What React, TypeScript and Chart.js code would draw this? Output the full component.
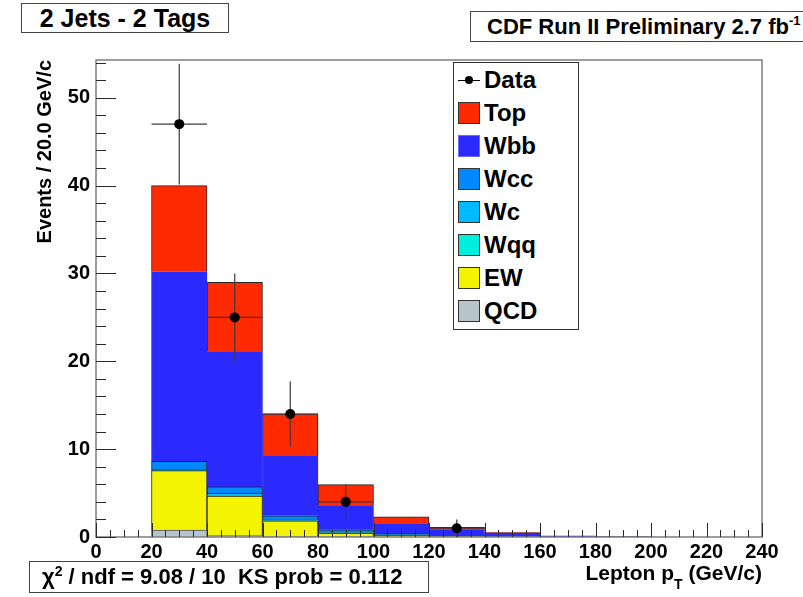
import React, { useEffect, useRef } from "react";
import { Chart, registerables } from "chart.js";

Chart.register(...registerables);

// ---- data ----
const binCenters = [30, 50, 70, 90, 110, 130, 150, 170, 190];
const binWidth = 20;
const qcd = [0.8, 0.15, 0.05, 0.05, 0, 0, 0, 0, 0];
const ew = [6.75, 4.5, 1.8, 0.4, 0.2, 0.05, 0, 0, 0];
const wqq = [0.05, 0.05, 0.02, 0.02, 0, 0, 0, 0, 0];
const wc = [0.1, 0.3, 0.1, 0.1, 0.05, 0, 0, 0, 0];
const wcc = [0.9, 0.7, 0.45, 0.25, 0.1, 0.05, 0.02, 0, 0];
const wbb = [21.6, 15.4, 6.75, 2.75, 1.1, 0.7, 0.43, 0.12, 0.02];
const topQuark = [9.8, 7.9, 4.85, 2.4, 0.85, 0.3, 0.05, 0, 0.02];
const dataCounts = [47, 25, 14, 4, 0, 1, 0, 0, 0];
const dataErrors = [6.86, 5, 3.74, 2, 0, 1, 0, 0, 0];
const xTickValues = [0, 20, 40, 60, 80, 100, 120, 140, 160, 180, 200, 220, 240];
const yTickValues = [0, 10, 20, 30, 40, 50];
const xMax = 240;
const yMax = 54.3;

// ---- styles ----
const FONT = "'Liberation Sans', Arial, Helvetica, sans-serif";
const colors = {
  Top: "#ff2a00",
  Wbb: "#2a2aff",
  Wcc: "#0088ff",
  Wc: "#00bbff",
  Wqq: "#00eedd",
  EW: "#f4f400",
  QCD: "#b8c4cc",
};
const edge = "#262626";

const stackSeries = [
  { label: "QCD", values: qcd, border: "#555" },
  { label: "EW", values: ew, border: edge },
  { label: "Wqq", values: wqq, border: edge },
  { label: "Wc", values: wc, border: edge },
  { label: "Wcc", values: wcc, border: edge },
  { label: "Wbb", values: wbb, border: colors.Wbb },
  { label: "Top", values: topQuark, border: edge },
];
const legendOrder = ["Top", "Wbb", "Wcc", "Wc", "Wqq", "EW", "QCD"];

const rootPlugin = {
  id: "rootStyle",
  beforeDatasetDraw(chart: any, args: any) {
    const ds = chart.data.datasets[args.index];
    if (ds.type !== "scatter") return;
    const { ctx, chartArea: a, scales } = chart;
    const x = scales.x;
    const y = scales.y;
    ctx.save();
    // frame
    ctx.strokeStyle = "#7d7d7d";
    ctx.lineWidth = 1.5;
    ctx.strokeRect(a.left, a.top, a.right - a.left, a.bottom - a.top);
    // ticks
    ctx.strokeStyle = "#2a2a2a";
    ctx.lineWidth = 1;
    ctx.beginPath();
    for (let v = 0; v <= xMax; v += 5) {
      const px = Math.round(x.getPixelForValue(v)) + 0.5;
      const len = v % 20 === 0 ? 14 : 7;
      ctx.moveTo(px, a.bottom);
      ctx.lineTo(px, a.bottom - len);
    }
    for (let v = 0; v <= yMax; v += 2) {
      const py = Math.round(y.getPixelForValue(v)) + 0.5;
      const len = v % 10 === 0 ? 20 : 10;
      ctx.moveTo(a.left, py);
      ctx.lineTo(a.left + len, py);
    }
    ctx.stroke();
    // error bars
    ctx.strokeStyle = "#3a3a3a";
    ctx.lineWidth = 1.2;
    ctx.beginPath();
    binCenters.forEach((c, i) => {
      if (dataCounts[i] <= 0) return;
      const px = x.getPixelForValue(c);
      const py = y.getPixelForValue(dataCounts[i]);
      ctx.moveTo(x.getPixelForValue(c - binWidth / 2), py);
      ctx.lineTo(x.getPixelForValue(c + binWidth / 2), py);
      ctx.moveTo(px, y.getPixelForValue(dataCounts[i] + dataErrors[i]));
      ctx.lineTo(px, y.getPixelForValue(Math.max(0, dataCounts[i] - dataErrors[i])));
    });
    ctx.stroke();
    ctx.restore();
  },
};

export default function App() {
  const ref = useRef<HTMLCanvasElement>(null);

  useEffect(() => {
    const datasets: any[] = stackSeries.map((s) => ({
      type: "bar",
      label: s.label,
      data: binCenters.map((c, i) => ({ x: c, y: s.values[i] > 0 ? s.values[i] : null })),
      backgroundColor: (colors as any)[s.label],
      borderColor: s.border,
      borderWidth: 1,
      borderSkipped: "start",
      categoryPercentage: 1,
      barPercentage: 1,
      stack: "mc",
    }));
    datasets.push({
      type: "scatter",
      label: "Data",
      data: binCenters
        .map((c, i) => ({ x: c, y: dataCounts[i] }))
        .filter((p) => p.y > 0),
      backgroundColor: "#000",
      borderColor: "#000",
      pointRadius: 5,
      pointBorderWidth: 0,
      stack: "data",
      order: -1,
    });

    const tickFont = { family: FONT, size: 20, weight: "bold" as const };
    const chart = new Chart(ref.current!, {
      type: "bar",
      data: { datasets },
      options: {
        animation: false,
        responsive: false,
        devicePixelRatio: 1,
        layout: { padding: { left: 0, top: 60, right: 41, bottom: 0 } },
        plugins: { legend: { display: false }, tooltip: { enabled: false }, title: { display: false } },
        scales: {
          x: {
            type: "linear",
            min: 0,
            max: xMax,
            offset: false,
            stacked: true,
            grid: { display: false, drawTicks: false },
            border: { display: false },
            afterBuildTicks: (scale: any) => {
              scale.ticks = xTickValues.map((v) => ({ value: v }));
            },
            afterFit: (scale: any) => {
              scale.height = 60;
            },
            ticks: { font: tickFont, color: "#000", padding: 3, maxRotation: 0, autoSkip: false },
          },
          y: {
            type: "linear",
            min: 0,
            max: yMax,
            stacked: true,
            grid: { display: false, drawTicks: false },
            border: { display: false },
            afterBuildTicks: (scale: any) => {
              scale.ticks = yTickValues.map((v) => ({ value: v }));
            },
            afterFit: (scale: any) => {
              scale.width = 96;
            },
            ticks: { font: tickFont, color: "#000", padding: 6 },
          },
        },
      } as any,
      plugins: [rootPlugin],
    });
    return () => chart.destroy();
  }, []);

  const box: React.CSSProperties = {
    position: "absolute",
    border: "1px solid #444",
    background: "#fff",
    boxSizing: "border-box",
    whiteSpace: "pre",
  };

  return (
    <div
      style={{
        position: "absolute",
        left: 0,
        top: 0,
        width: 803,
        height: 597,
        overflow: "hidden",
        background: "#fff",
        fontFamily: FONT,
        fontWeight: "bold",
        color: "#000",
      }}
    >
      <canvas ref={ref} width={803} height={597} style={{ position: "absolute", left: 0, top: 0 }} />

      <div style={{ ...box, left: 21, top: 3, width: 208, height: 30, fontSize: 25, lineHeight: "28px", textAlign: "center" }}>
        2 Jets - 2 Tags
      </div>

      <div style={{ ...box, left: 470, top: 11, width: 345, height: 31, fontSize: 22, lineHeight: "29px", paddingLeft: 16 }}>
        CDF Run II Preliminary 2.7 fb
        <span style={{ fontSize: 13, position: "relative", top: -9 }}>-1</span>
      </div>

      <div
        style={{
          position: "absolute",
          left: 32,
          top: 360,
          width: 300,
          height: 24,
          lineHeight: "24px",
          fontSize: 20,
          textAlign: "right",
          transformOrigin: "0 0",
          transform: "rotate(-90deg)",
          whiteSpace: "pre",
        }}
      >
        Events / 20.0 GeV/c
      </div>

      <div
        style={{
          position: "absolute",
          right: 41,
          top: 562,
          fontSize: 21,
          lineHeight: "21px",
          whiteSpace: "pre",
        }}
      >
        Lepton p<span style={{ fontSize: 14, position: "relative", top: 9 }}>T</span> (GeV/c)
      </div>

      <div style={{ ...box, left: 29, top: 561, width: 400, height: 32, fontSize: 22, lineHeight: "30px", paddingLeft: 12 }}>
        χ<span style={{ fontSize: 14, position: "relative", top: -8 }}>2</span>
        {" / ndf = 9.08 / 10  KS prob = 0.112"}
      </div>

      <div style={{ ...box, left: 453, top: 62, width: 126, height: 268, border: "1px solid #333", paddingTop: 0 }}>
        <div style={{ position: "relative", height: 33, display: "flex", alignItems: "center" }}>
          <div style={{ position: "relative", width: 22, height: 22, marginLeft: 4 }}>
            <div style={{ position: "absolute", left: 0, right: 0, top: 11, height: 1, background: "#000" }} />
            <div style={{ position: "absolute", left: 7, top: 7, width: 8, height: 8, borderRadius: 4, background: "#000" }} />
          </div>
          <span style={{ fontSize: 24, marginLeft: 4 }}>Data</span>
        </div>
        {legendOrder.map((name) => (
          <div key={name} style={{ position: "relative", height: 33, display: "flex", alignItems: "center" }}>
            <div
              style={{
                width: 22,
                height: 22,
                marginLeft: 4,
                boxSizing: "border-box",
                background: (colors as any)[name],
                border: name === "Wbb" ? "1px solid #6a6aff" : "1px solid #333",
              }}
            />
            <span style={{ fontSize: 24, marginLeft: 4 }}>{name}</span>
          </div>
        ))}
      </div>
    </div>
  );
}
